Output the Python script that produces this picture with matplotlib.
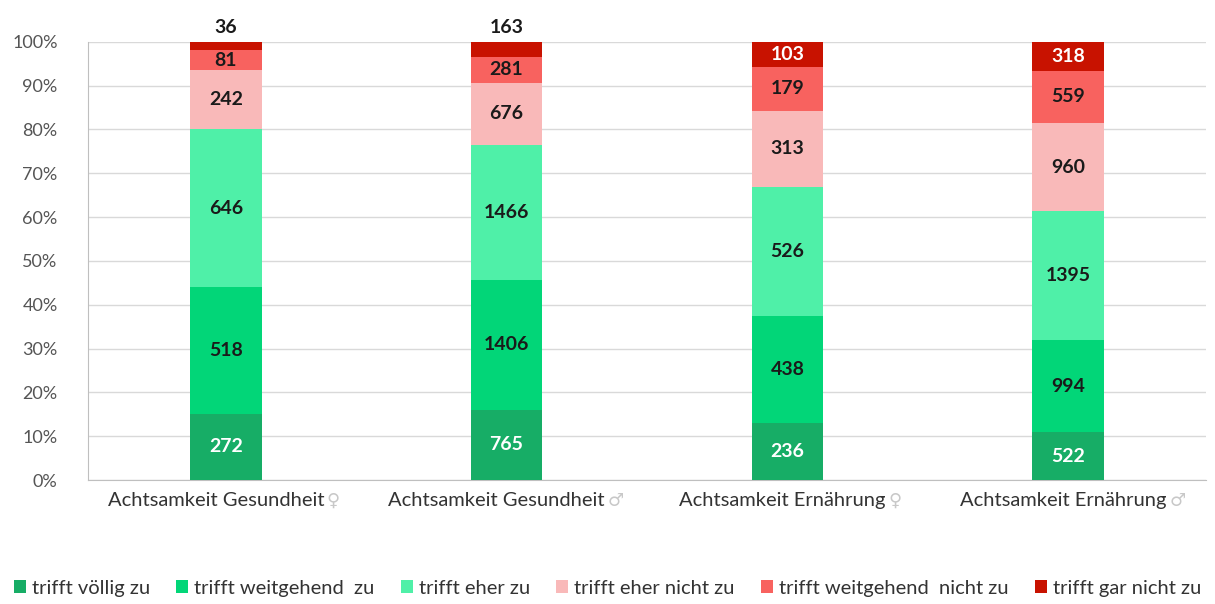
import matplotlib.pyplot as plt
import numpy as np

plt.rcParams['font.family'] = ['Lato', 'DejaVu Sans']

categories = ['Achtsamkeit Gesundheit', 'Achtsamkeit Gesundheit',
              'Achtsamkeit Ernährung', 'Achtsamkeit Ernährung']
genders = ['♀', '♂', '♀', '♂']
levels = ['trifft völlig zu', 'trifft weitgehend  zu', 'trifft eher zu',
          'trifft eher nicht zu', 'trifft weitgehend  nicht zu', 'trifft gar nicht zu']
counts = [
    [272, 765, 236, 522],
    [518, 1406, 438, 994],
    [646, 1466, 526, 1395],
    [242, 676, 313, 960],
    [81, 281, 179, 559],
    [36, 163, 103, 318],
]
colors = ['#17ad66', '#02d678', '#4ff0a8', '#f9b9b9', '#f8625f', '#c81200']
text_colors = ['white', '#1a1a1a', '#1a1a1a', '#1a1a1a', '#1a1a1a', 'white']

vals = np.array(counts, dtype=float)
share = vals / vals.sum(axis=0) * 100
x = np.arange(len(categories))

fig = plt.figure(figsize=(12.15, 6.04), dpi=100)
ax = fig.add_axes([0.0725, 0.205, 0.92, 0.726])

bottom = np.zeros(len(categories))
for i, lvl in enumerate(levels):
    ax.bar(x, share[i], 0.255, bottom=bottom, color=colors[i], label=lvl, zorder=3)
    for j in range(len(categories)):
        if share[i][j] < 4:
            # segment too thin, put the number above the bar
            ax.text(x[j], 101.2, str(counts[i][j]), ha='center', va='bottom',
                    fontsize=14, fontweight='bold', color='#1a1a1a')
        else:
            ax.text(x[j], bottom[j] + share[i][j] / 2, str(counts[i][j]),
                    ha='center', va='center', fontsize=14, fontweight='bold',
                    color=text_colors[i], zorder=4)
    bottom += share[i]

ax.set_xlim(-0.49, 3.49)
ax.set_ylim(0, 100)
ax.set_yticks(np.arange(0, 101, 10))
ax.set_yticklabels([f'{v}%' for v in range(0, 101, 10)], fontsize=13, color='#555555')
ax.yaxis.grid(True, color='#d9d9d9', linewidth=1, zorder=0)
ax.set_xticks(x)
ax.set_xticklabels([])
for j in range(len(categories)):
    ax.text(x[j] + 0.35, -2.6, categories[j], ha='right', va='top', fontsize=14.5,
            color='#333333')
    ax.text(x[j] + 0.36, -2.6, genders[j], ha='left', va='top', fontsize=13,
            color='#c8c8c8', family=['DejaVu Sans'])
ax.tick_params(axis='x', length=0)
ax.tick_params(axis='y', length=0, pad=22)
for s in ['top', 'right']:
    ax.spines[s].set_visible(False)
ax.spines['left'].set_color('#bfbfbf')
ax.spines['bottom'].set_color('#bfbfbf')

fig.legend(loc='lower center', bbox_to_anchor=(0.5, -0.018), ncol=6, frameon=False,
           fontsize=14.5, handlelength=0.6, handleheight=0.6, handletextpad=0.3,
           columnspacing=1.3, labelcolor='#333333')

fig.savefig('out.png', dpi=100)
